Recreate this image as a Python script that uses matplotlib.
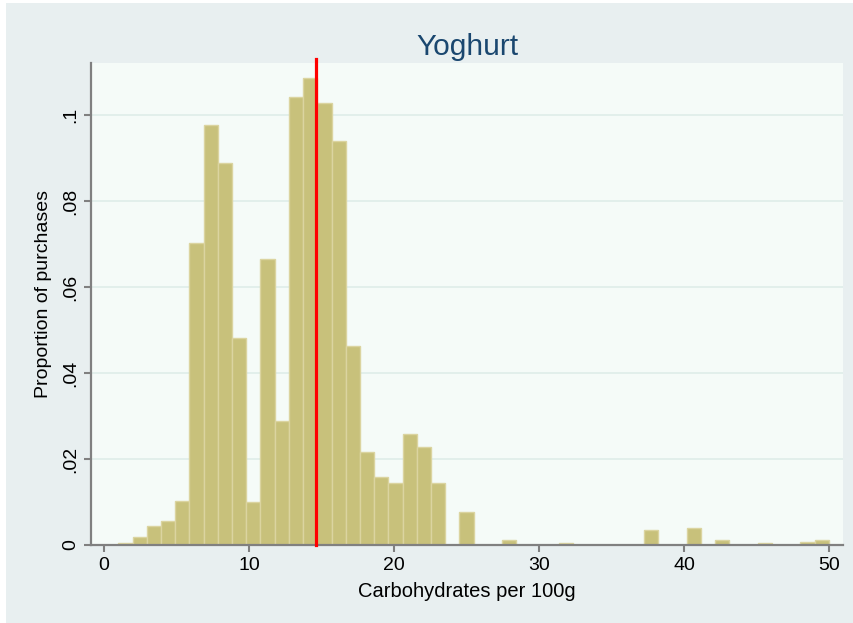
import matplotlib
matplotlib.use("Agg")
import matplotlib.pyplot as plt
from matplotlib.patches import Rectangle
import numpy as np

# histogram of carbohydrates per 100g, yoghurt purchases
bin_start = 0.99
bin_width = 0.98
proportions = [0.0005, 0.0018, 0.0045, 0.0056, 0.0103, 0.0703, 0.0977, 0.0888, 0.0482, 0.0101,
               0.0664, 0.0289, 0.1043, 0.1087, 0.1029, 0.0940, 0.0462, 0.0217, 0.0159, 0.0145,
               0.0258, 0.0227, 0.0145, 0.0, 0.0076, 0.0, 0.0, 0.0012, 0.0, 0.0,
               0.0, 0.0005, 0.0, 0.0, 0.0, 0.0, 0.0, 0.0035, 0.0, 0.0,
               0.0039, 0.0, 0.0012, 0.0, 0.0, 0.0005, 0.0, 0.0, 0.0008, 0.0012]
mean_carbs = 14.62
x_ticks = [0, 10, 20, 30, 40, 50]
y_ticks = [0, 0.02, 0.04, 0.06, 0.08, 0.1]
y_ticklabels = ["0", ".02", ".04", ".06", ".08", ".1"]

plt.rcParams['font.family'] = ['Liberation Sans', 'DejaVu Sans']

fig = plt.figure(figsize=(8.54, 6.23), dpi=100)
fig.patch.set_facecolor("white")
# stata style graph region, drawn behind the axes
bg = Rectangle((6/854, 0), 1, (623-3)/623, transform=fig.transFigure,
               facecolor="#e8eff0", edgecolor="none", zorder=-10)
fig.add_artist(bg)

ax = fig.add_axes((91/854, (623-545)/623, (843-91)/854, (545-63)/623))
ax.set_facecolor("#f5fbf8")

lefts = bin_start + bin_width*np.arange(len(proportions))
ax.bar(lefts, proportions, width=bin_width, align="edge",
       color="#c8c17b", edgecolor="#dbd4a0", linewidth=1, zorder=2)

ax.axvline(mean_carbs, ymin=0, ymax=1.008, color="#ff0000", lw=2.3, zorder=3, clip_on=False)

ax.set_xlim(-0.9, 50.97)
ax.set_ylim(0, 0.1121)
ax.set_xticks(x_ticks)
ax.set_yticks(y_ticks)
ax.set_yticklabels(y_ticklabels, rotation=90, va="center")

for y in y_ticks[1:]:
    ax.axhline(y, color="#e0eeea", lw=1.3, zorder=1)

for s in ["top", "right"]:
    ax.spines[s].set_visible(False)
for s in ["left", "bottom"]:
    ax.spines[s].set_color("#808080")
    ax.spines[s].set_linewidth(1.6)
ax.tick_params(axis="both", colors="#808080", width=1.5, length=5, labelcolor="black", labelsize=14)

ax.set_title("Yoghurt", color="#1a476f", fontsize=21.5, pad=6)
ax.set_xlabel("Carbohydrates per 100g", fontsize=14.5, labelpad=6)
ax.set_ylabel("Proportion of purchases", fontsize=14, labelpad=8)
ax.yaxis.set_label_coords(-0.052, 0.521)

fig.savefig("out.png", dpi=100, facecolor=fig.get_facecolor())
